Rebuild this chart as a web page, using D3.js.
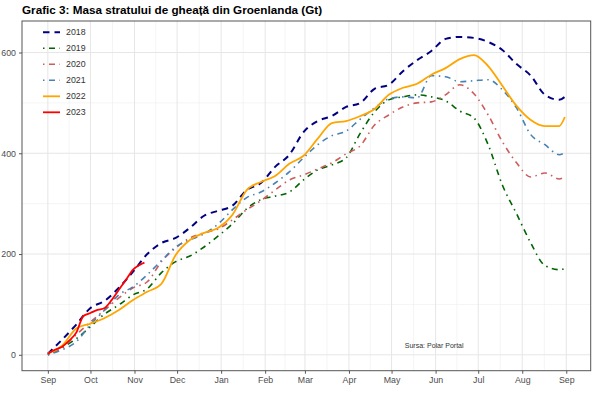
<!DOCTYPE html>
<html><head><meta charset="utf-8">
<script src="https://cdn.jsdelivr.net/npm/d3@7"></script>
<style>body{margin:0;background:#fff}svg{display:block}</style>
</head><body>
<script>
// ---- data (days since 1 Sep) ----
const days = [0,10,20,30,40,50,60,70,80,90,100,110,120,130,140,150,160,170,180,190,200,210,220,230,240,250,260,270,280,290,300,310,320,330,340,350,360,364];
const v2018 = [2,30,60,93,107,133,165,200,222,232,252,276,286,296,327,341,373,397,442,464,474,492,500,528,536,563,585,603,627,631,629,621,605,577,554,516,506,512];
const v2019 = [0,14,32,56,81,99,119,131,163,185,196,214,236,260,290,308,315,323,347,367,377,391,440,482,506,512,516,512,504,484,470,417,337,280,222,177,169,171];
const v2020 = [0,14,40,65,89,113,133,145,185,212,232,242,250,268,288,306,327,347,357,369,381,399,415,456,476,492,500,502,516,536,518,476,423,381,353,361,349,353];
const v2021 = [0,10,26,60,89,119,135,159,187,214,228,240,260,288,312,323,341,363,391,417,435,444,468,490,508,512,510,554,552,542,544,546,526,490,437,417,397,401];
const v2022 = [3,18,52,62,73,89,109,125,141,198,228,242,252,278,327,343,355,379,395,429,460,464,474,488,516,530,538,556,569,587,595,573,534,494,466,454,454,472];
const days2023 = [0,5,10,15,20,25,30,35,40,45,50,55,60,65,68];
const v2023 = [2,10,16,28,44,77,83,89,93,109,129,149,169,179,183];
const years = ["2018","2019","2020","2021","2022","2023"];
const colors = ["#000080","#006400","#CD5C5C","#4682B4","#FFA500","#FF0000"];
const dashes = ["6.5,5","1.5,4.5,6,4.5","1.5,4.5,6,4.5","1.5,4.5,6,4.5",null,null];
const widths = [2,1.6,1.6,1.6,1.8,1.8];
const monthLabels = ["Sep","Oct","Nov","Dec","Jan","Feb","Mar","Apr","May","Jun","Jul","Aug","Sep"];
const yTicks = [0,200,400,600];
const title = "Grafic 3: Masa stratului de gheață din Groenlanda (Gt)";
const source = "Sursa: Polar Portal";

const seriesVals = [v2018,v2019,v2020,v2021,v2022,v2023];
const series = years.map((y,i)=>({
  year:y, color:colors[i], dash:dashes[i], w:widths[i],
  pts:(i===5?days2023:days).map((d,j)=>({d:d, v:seriesVals[i][j]}))
}));

const W=600,H=397;
const panel={l:22,r:590.7,t:21,b:370.7};
const svg=d3.select("body").append("svg").attr("width",W).attr("height",H);
const font="Liberation Sans, Arial, sans-serif";

const dayDate=d=>new Date(2022,8,1+d);
const xDom=[dayDate(0),dayDate(364)];
const span=xDom[1]-xDom[0];
const x=d3.scaleTime().domain([new Date(+xDom[0]-0.05*span),new Date(+xDom[1]+0.05*span)]).range([panel.l,panel.r]);
const yMax=d3.max(seriesVals.flat());
const y=d3.scaleLinear().domain([-0.05*yMax,yMax*1.05]).range([panel.b,panel.t]);

// grid
const g=svg.append("g");
const months=d3.range(13).map(i=>new Date(2022,8+i,1));
const minorX=[];
for(let i=0;i<12;i++){minorX.push(new Date((+months[i]+ +months[i+1])/2));}
g.selectAll(".mx").data(minorX).join("line").attr("x1",d=>x(d)).attr("x2",d=>x(d)).attr("y1",panel.t).attr("y2",panel.b).attr("stroke","#ebebeb").attr("stroke-width",0.55);
g.selectAll(".my").data([100,300,500]).join("line").attr("x1",panel.l).attr("x2",panel.r).attr("y1",d=>y(d)).attr("y2",d=>y(d)).attr("stroke","#ebebeb").attr("stroke-width",0.55);
g.selectAll(".Mx").data(months).join("line").attr("x1",d=>x(d)).attr("x2",d=>x(d)).attr("y1",panel.t).attr("y2",panel.b).attr("stroke","#e6e6e6").attr("stroke-width",1);
g.selectAll(".My").data(yTicks).join("line").attr("x1",panel.l).attr("x2",panel.r).attr("y1",d=>y(d)).attr("y2",d=>y(d)).attr("stroke","#e6e6e6").attr("stroke-width",1);

// lines
const line=d3.line().x(p=>x(dayDate(p.d))).y(p=>y(p.v)).curve(d3.curveMonotoneX);
svg.append("g").selectAll("path").data(series).join("path")
  .attr("d",s=>line(s.pts)).attr("fill","none").attr("stroke",s=>s.color)
  .attr("stroke-width",s=>s.w).attr("stroke-dasharray",s=>s.dash)
  .attr("stroke-linejoin","round");

// border
svg.append("rect").attr("x",panel.l).attr("y",panel.t).attr("width",panel.r-panel.l).attr("height",panel.b-panel.t).attr("fill","none").attr("stroke","#555").attr("stroke-width",1);

// axes
const xAxis=d3.axisBottom(x).tickValues(months).tickFormat((d,i)=>monthLabels[i]).tickSize(3).tickPadding(3);
const ax=svg.append("g").attr("transform",`translate(0,${panel.b})`).call(xAxis);
const yAxis=d3.axisLeft(y).tickValues(yTicks).tickSize(3).tickPadding(3);
const ay=svg.append("g").attr("transform",`translate(${panel.l},0)`).call(yAxis);
[ax,ay].forEach(a=>{a.select(".domain").remove();a.selectAll("line").attr("stroke","#555");a.selectAll("text").attr("fill","#4d4d4d").attr("font-family",font).attr("font-size",8.8);});

// legend
const lg=svg.append("g");
series.forEach((s,i)=>{
  const yy=32.3+i*16;
  lg.append("line").attr("x1",43).attr("x2",60).attr("y1",yy).attr("y2",yy).attr("stroke",s.color).attr("stroke-width",s.w).attr("stroke-dasharray",s.dash);
  lg.append("text").attr("x",66).attr("y",yy+3).text(s.year).attr("font-family",font).attr("font-size",8.8).attr("fill","#333");
});

// title
svg.append("text").attr("x",22).attr("y",14).text(title).attr("font-family",font).attr("font-weight","bold").attr("font-size",11.7).attr("fill","#000");
// source
svg.append("text").attr("x",x(dayDate(272))).attr("y",347.5).attr("text-anchor","middle").text(source).attr("font-family",font).attr("font-size",7).attr("fill","#333");
</script>
</body></html>
